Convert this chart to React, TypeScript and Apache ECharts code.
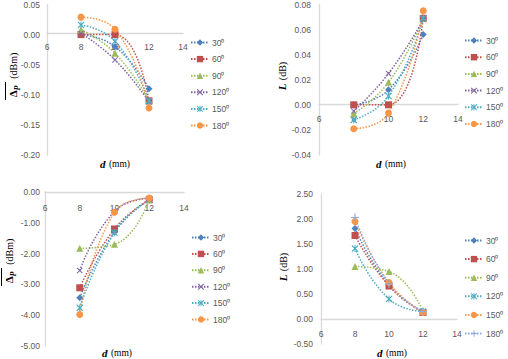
import React, { useEffect, useRef } from 'react';
import * as echarts from 'echarts';

// ---------- data ----------
const D_MM = [8, 10, 12];
const ANGLE_LABELS = ['30⁰', '60⁰', '90⁰', '120⁰', '150⁰', '180⁰'];
const X_TICKS = [6, 14, 2]; // min, max, step

// top-left: mean delta P (dBm)
const DP_TOP = [
  [0.0, -0.02, -0.09],
  [0.0, 0.0, -0.11],
  [0.008, -0.031, -0.11],
  [0.002, -0.042, -0.112],
  [0.016, -0.011, -0.11],
  [0.029, 0.009, -0.122],
];
// top-right: L (dB)
const L_TOP = [
  [0.0, 0.012, 0.056],
  [0.0, 0.0, 0.069],
  [-0.007, 0.018, 0.069],
  [-0.005, 0.025, 0.068],
  [-0.012, 0.007, 0.069],
  [-0.019, -0.0066, 0.075],
];
// bottom-left: mean delta P (dBm)
const DP_BOTTOM = [
  [-3.43, -1.3, -0.25],
  [-3.11, -1.2, -0.25],
  [-1.83, -1.7, -0.25],
  [-2.55, -0.63, -0.2],
  [-3.76, -1.32, -0.25],
  [-3.98, -0.66, -0.2],
];
// bottom-right: L (dB)
const L_BOTTOM = [
  [1.81, 0.68, 0.15],
  [1.67, 0.66, 0.13],
  [1.05, 0.95, 0.15],
  [1.41, 0.4, 0.15],
  [1.95, 0.73, 0.13],
  [2.03, 0.7, 0.15],
];

// ---------- styles ----------
const BLUE = '#4F81BD';
const RED = '#C0504D';
const GREEN = '#9BBB59';
const PURPLE = '#8064A2';
const CYAN = '#4BACC6';
const ORANGE = '#F79646';
const LIGHTBLUE = '#8EA9DB';

const SYM_X = 'path://M0,1.2 L1.2,0 L5,3.8 L8.8,0 L10,1.2 L6.2,5 L10,8.8 L8.8,10 L5,6.2 L1.2,10 L0,8.8 L3.8,5 Z';
const SYM_AST = SYM_X + ' M4.35,0 L5.65,0 L5.65,10 L4.35,10 Z';
const SYM_PLUS = 'path://M4.3,0 L5.7,0 L5.7,4.3 L10,4.3 L10,5.7 L5.7,5.7 L5.7,10 L4.3,10 L4.3,5.7 L0,5.7 L0,4.3 L4.3,4.3 Z';

const STYLE_A = [
  { color: BLUE, symbol: 'diamond', size: 7 },
  { color: RED, symbol: 'rect', size: 7 },
  { color: GREEN, symbol: 'triangle', size: 7 },
  { color: PURPLE, symbol: SYM_X, size: 6 },
  { color: CYAN, symbol: SYM_AST, size: 7 },
  { color: ORANGE, symbol: 'circle', size: 7 },
];
const STYLE_B = [
  { color: BLUE, symbol: 'diamond', size: 7 },
  { color: RED, symbol: 'rect', size: 7 },
  { color: GREEN, symbol: 'triangle', size: 7 },
  { color: CYAN, symbol: SYM_AST, size: 7 },
  { color: ORANGE, symbol: 'circle', size: 7 },
  { color: LIGHTBLUE, symbol: SYM_PLUS, size: 8 },
];

const PANELS = [
  {
    data: DP_TOP, styles: STYLE_A,
    grid: { left: 47, top: 3, width: 136, height: 152 },
    y: [-0.2, 0.05, 0.05], yMargin: 7, xMargin: 9,
    legend: { left: 190, top: 38, gap: 7.6 },
  },
  {
    data: L_TOP, styles: STYLE_A,
    grid: { left: 319, top: 3, width: 139, height: 152 },
    y: [-0.04, 0.08, 0.02], yMargin: 8, xMargin: 10,
    legend: { left: 464, top: 36, gap: 7.7 },
  },
  {
    data: DP_BOTTOM, styles: STYLE_A,
    grid: { left: 45, top: 192, width: 139, height: 154 },
    y: [-5, 0, 1], yMargin: 5, xMargin: 11,
    legend: { left: 191, top: 233, gap: 7.4 },
  },
  {
    data: L_BOTTOM, styles: STYLE_B,
    grid: { left: 321, top: 194, width: 136, height: 150 },
    y: [-0.5, 2.5, 0.5], yMargin: 8, xMargin: 10,
    legend: { left: 464, top: 236, gap: 9.6 },
  },
];

const AXIS_LINE = { color: '#D9D9D9', width: 1.3 };
const LABEL = { color: '#595959', fontSize: 8.5, fontFamily: 'Liberation Sans, Arial, sans-serif' };
const SERIF = 'Liberation Serif, Times New Roman, serif';

const X_TITLES = [
  { x: 115, y: 164 },
  { x: 391, y: 164 },
  { x: 117, y: 353 },
  { x: 392, y: 353 },
];

function App() {
  const ref = useRef<HTMLDivElement>(null);
  useEffect(() => {
    if (!ref.current) return;
    const chart = echarts.init(ref.current, undefined, { renderer: 'svg' });

    const grid: any[] = [];
    const xAxis: any[] = [];
    const yAxis: any[] = [];
    const series: any[] = [];
    const legend: any[] = [];

    PANELS.forEach((p, pi) => {
      grid.push({ ...p.grid, containLabel: false });
      // place the x axis (line + labels) where y = 0
      const zeroFromBottom = (p.grid.height * (0 - p.y[0])) / (p.y[1] - p.y[0]);
      xAxis.push({
        type: 'value', gridIndex: pi,
        min: X_TICKS[0], max: X_TICKS[1], interval: X_TICKS[2],
        offset: -zeroFromBottom,
        axisLine: { show: true, onZero: false, lineStyle: AXIS_LINE },
        axisTick: { show: false },
        splitLine: { show: false },
        axisLabel: { ...LABEL, margin: p.xMargin },
      });
      yAxis.push({
        type: 'value', gridIndex: pi,
        min: p.y[0], max: p.y[1], interval: p.y[2],
        axisLine: { show: true, onZero: false, lineStyle: AXIS_LINE },
        axisTick: { show: false },
        splitLine: { show: false },
        axisLabel: { ...LABEL, margin: p.yMargin, formatter: (v: number) => v.toFixed(2) },
      });
      const names: string[] = [];
      p.data.forEach((vals, si) => {
        const st = p.styles[si];
        const name = ANGLE_LABELS[si] + '\u200B'.repeat(pi);
        names.push(name);
        series.push({
          type: 'line', name,
          xAxisIndex: pi, yAxisIndex: pi,
          data: vals.map((v, k) => [D_MM[k], v]),
          smooth: 0.5,
          symbol: st.symbol, symbolSize: st.size, showAllSymbol: true,
          lineStyle: { color: st.color, width: 1.5, type: [1.5, 1.5] },
          itemStyle: { color: st.color },
          clip: false,
        });
      });
      legend.push({
        data: names,
        orient: 'vertical',
        left: p.legend.left, top: p.legend.top,
        itemGap: p.legend.gap,
        itemWidth: 18, itemHeight: 8,
        padding: 0,
        selectedMode: false,
        textStyle: { ...LABEL, lineHeight: 8, padding: [0, 0, 0, -2] },
      });
    });

    const graphic: any[] = [];
    X_TITLES.forEach((t) => {
      graphic.push({
        type: 'text', x: t.x, y: t.y,
        style: {
          text: '{i|d} {n|(mm)}',
          align: 'center', verticalAlign: 'middle',
          rich: {
            i: { fontFamily: SERIF, fontStyle: 'italic', fontWeight: 'bold', fontSize: 11, fill: '#000' },
            n: { fontFamily: SERIF, fontSize: 9.5, fill: '#000' },
          },
        },
      });
    });
    const dpTitle = (x: number, y: number) => ({
      type: 'text', x, y, rotation: Math.PI / 2,
      style: {
        text: '{d|Δ}{p|P}  {t|(dBm)}',
        align: 'center', verticalAlign: 'middle',
        rich: {
          d: { fontFamily: SERIF, fontWeight: 'bold', fontSize: 11, fill: '#000', verticalAlign: 'bottom' },
          p: { fontFamily: SERIF, fontStyle: 'italic', fontWeight: 'bold', fontSize: 8, fill: '#000', verticalAlign: 'bottom', padding: [0, 0, -3, 0] },
          t: { fontFamily: SERIF, fontSize: 10, fill: '#000', verticalAlign: 'bottom' },
        },
      },
    });
    const lTitle = (x: number, y: number) => ({
      type: 'text', x, y, rotation: Math.PI / 2,
      style: {
        text: '{l|L} {t|(dB)}',
        align: 'center', verticalAlign: 'middle',
        rich: {
          l: { fontFamily: SERIF, fontStyle: 'italic', fontWeight: 'bold', fontSize: 11, fill: '#000' },
          t: { fontFamily: SERIF, fontSize: 10, fill: '#000' },
        },
      },
    });
    graphic.push(dpTitle(12, 75));
    graphic.push({ type: 'line', shape: { x1: 5.5, y1: 82, x2: 5.5, y2: 100 }, style: { stroke: '#000', lineWidth: 1 } });
    graphic.push(dpTitle(8, 261));
    graphic.push({ type: 'line', shape: { x1: 1.5, y1: 268, x2: 1.5, y2: 286 }, style: { stroke: '#000', lineWidth: 1 } });
    graphic.push(lTitle(282, 76));
    graphic.push(lTitle(283, 267));

    chart.setOption({
      animation: false,
      backgroundColor: '#ffffff',
      grid, xAxis, yAxis, series, legend, graphic,
    });
    return () => chart.dispose();
  }, []);
  return <div ref={ref} style={{ position: 'absolute', left: 0, top: 0, width: 508, height: 359 }} />;
}

export default App;
